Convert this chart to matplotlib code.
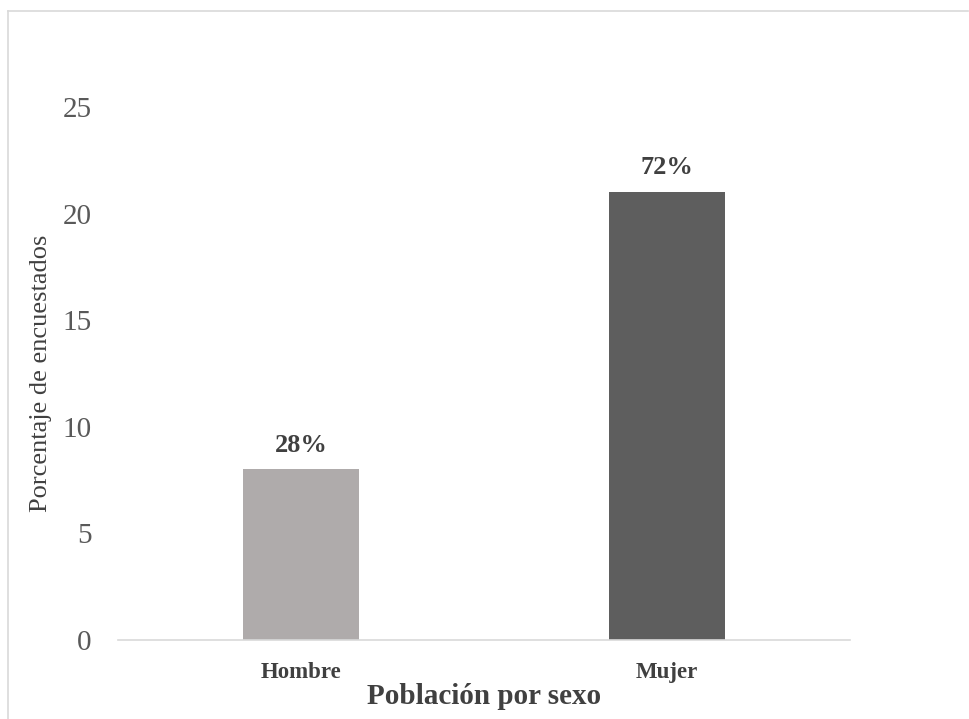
import matplotlib.pyplot as plt
from matplotlib.lines import Line2D

categorias = ['Hombre', 'Mujer']
valores = [8, 21]
etiquetas = ['28%', '72%']
colores = ['#AFABAB', '#5E5E5E']
yticks = [0, 5, 10, 15, 20, 25]

plt.rcParams['font.family'] = ['Liberation Serif', 'DejaVu Serif']

fig = plt.figure(figsize=(9.69, 7.19), dpi=100)
ax = fig.add_axes([118 / 969, 1 - 640 / 719, 732 / 969, 533 / 719])

x = list(range(len(categorias)))
bars = ax.bar(x, valores, width=0.317, color=colores)
for b, t in zip(bars, etiquetas):
    ax.text(b.get_x() + b.get_width() / 2, b.get_height() + 0.6, t,
            ha='center', va='bottom', fontsize=19, fontweight='bold', color='#404040')

ax.set_xlim(-0.5, 1.5)
ax.set_ylim(0, 25)
ax.set_yticks(yticks)
ax.set_xticks(x)
ax.set_xticklabels(categorias, fontsize=16.5, fontweight='bold', color='#404040')
ax.tick_params(axis='y', labelsize=21, labelcolor='#595959', length=0, pad=19)
ax.tick_params(axis='x', length=0, pad=16)
for s in ['top', 'right', 'left']:
    ax.spines[s].set_visible(False)
ax.spines['bottom'].set_color('#D9D9D9')
ax.spines['bottom'].set_linewidth(1.2)

ax.set_ylabel('Porcentaje de encuestados', fontsize=19, color='#404040')
ax.yaxis.set_label_coords(-0.09, 0.5)
ax.set_xlabel('Población por sexo', fontsize=21, fontweight='bold', color='#404040', labelpad=0)

# marco del gráfico
fig.add_artist(Line2D([8 / 969, 8 / 969], [0, 1 - 11 / 719], transform=fig.transFigure,
                      color='#D9D9D9', lw=1.2))
fig.add_artist(Line2D([8 / 969, 968 / 969], [1 - 11 / 719, 1 - 11 / 719], transform=fig.transFigure,
                      color='#D9D9D9', lw=1.2))

fig.savefig('out.png', dpi=100)
